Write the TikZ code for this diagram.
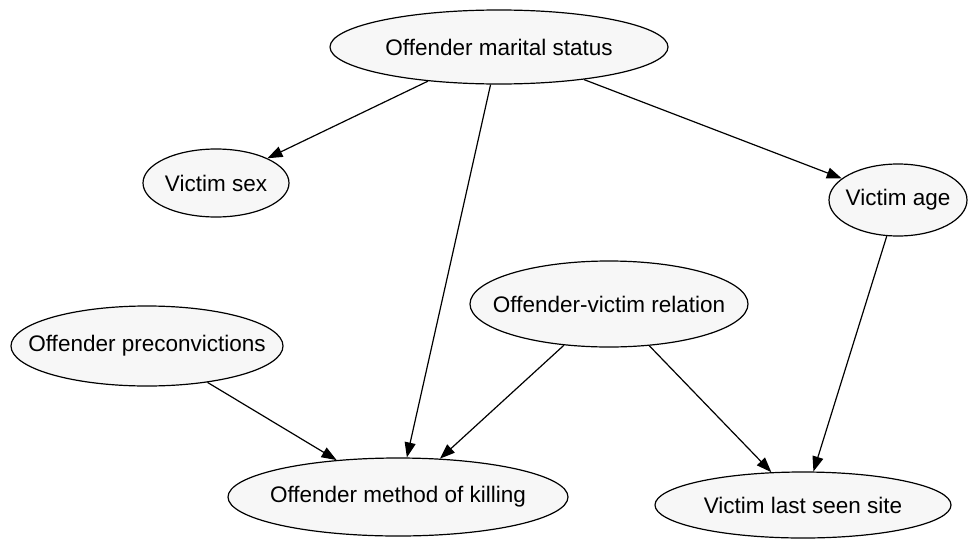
\documentclass[tikz,border=0pt]{standalone}
\usepackage{fontspec}
\setmainfont{Liberation Sans}
\usetikzlibrary{shapes.geometric,arrows.meta}
\definecolor{nodefill}{HTML}{F7F7F7}
\newcommand{\lbl}[1]{\makebox[0pt]{#1}}
\begin{document}
\begin{tikzpicture}[x=1pt,y=-1pt,>={Triangle[length=15pt,width=11pt]},
  var/.style={ellipse,draw,line width=1.2pt,fill=nodefill,inner sep=0pt,
    font=\fontsize{22.5}{26}\selectfont}]
\useasboundingbox (0,0) rectangle (968,538);
\node[var,minimum width=338pt,minimum height=74pt] (marital) at (499,47) {\lbl{Offender marital status}};
\node[var,minimum width=146pt,minimum height=68pt] (sex) at (216,183) {\lbl{Victim sex}};
\node[var,minimum width=138pt,minimum height=72pt] (age) at (898,200) {\lbl{Victim age}};
\node[var,minimum width=278pt,minimum height=86pt] (relation) at (609,304) {\lbl{Offender-victim relation}};
\node[var,minimum width=272pt,minimum height=80pt] (precon) at (147,346) {\lbl{Offender preconvictions}};
\node[var,minimum width=340pt,minimum height=78pt] (method) at (398,497) {\lbl{Offender method of killing}};
\node[var,minimum width=296pt,minimum height=66pt] (site) at (803,505) {\lbl{Victim last seen site}};
\foreach \a/\b in {marital/sex,marital/method,marital/age,age/site,relation/method,relation/site,precon/method}
{
    \draw[->,line width=1.2pt] (\a)--(\b);
}
\end{tikzpicture}
\end{document}
